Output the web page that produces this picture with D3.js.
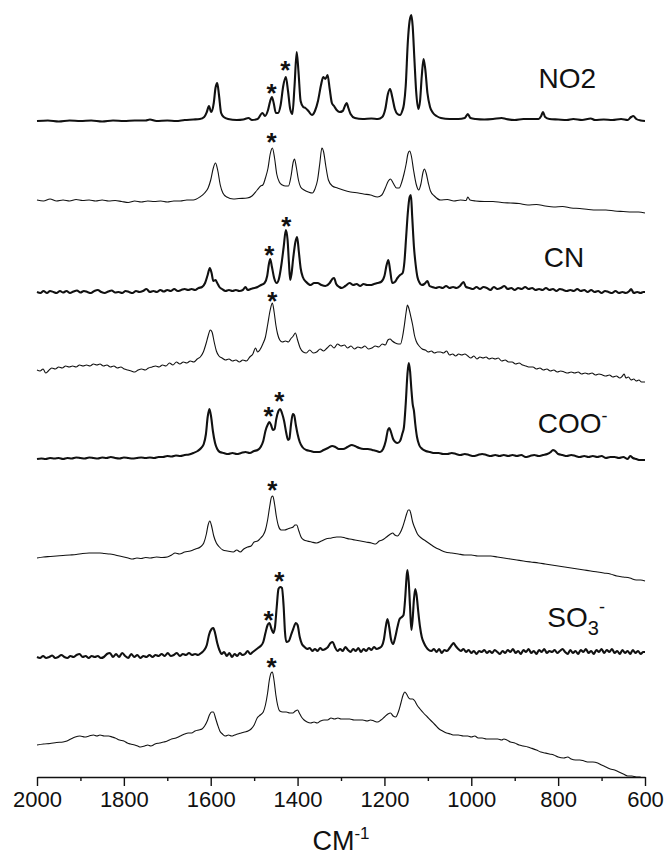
<!DOCTYPE html>
<html>
<head>
<meta charset="utf-8">
<script src="https://cdn.jsdelivr.net/npm/d3@7"></script>
<style>
  body { margin: 0; background: #fff; }
  svg { display: block; font-family: "Liberation Sans", Arial, sans-serif; }
  .spec { fill: none; stroke: #111; stroke-linejoin: round; }
  .axis path, .axis line { stroke: #111; stroke-width: 1.4px; }
  .axis text { font-family: "Liberation Sans", Arial, sans-serif; fill: #111; }
</style>
</head>
<body>
<svg id="chart" width="665" height="855"></svg>
<script>
//Stacked SERS spectra, top to bottom. Each spectrum is [wavenumber, intensity above its own baseline].

var tickLabels = [2000, 1800, 1600, 1400, 1200, 1000, 800, 600];
var minorTicks = [1900, 1700, 1500, 1300, 1100, 900, 700];

var offsets = [656, 577, 485, 407, 318, 219, 120, 32];
var thick = [true, false, true, false, true, false, true, false];

var spec1 = [[2000,0],[1975,0.5],[1950,-0.5],[1925,0.5],[1900,0],[1875,0.5],[1850,-0.5],[1825,0.5],[1800,0],[1775,0.5],[1750,0.5],[1740,1.5],[1725,0],[1700,0.5],[1680,0],[1660,1],[1640,1.5],[1625,2],[1615,4],[1609,9],[1604,15],[1599,9],[1593,18],[1589,33],[1585,38],[1581,26],[1576,8],[1570,4],[1560,2],[1540,1],[1525,1.5],[1513,3],[1505,1],[1492,2],[1481,8],[1475,5],[1468,11],[1463,20],[1459,24],[1455,18],[1450,8],[1445,8],[1439,16],[1433,35],[1427,44],[1422,30],[1417,12],[1412,7],[1407,35],[1402,69],[1398,50],[1393,20],[1387,14],[1382,13],[1375,10],[1367,6],[1360,10],[1353,20],[1346,36],[1341,44],[1336,42],[1331,46],[1326,32],[1321,18],[1316,15],[1310,11],[1303,9],[1296,10],[1291,15],[1287,18],[1283,13],[1278,7],[1268,3],[1250,2],[1230,2.5],[1215,2],[1205,4],[1198,12],[1192,27],[1187,32],[1182,24],[1176,12],[1170,7],[1164,6],[1159,10],[1155,17],[1151,35],[1146,80],[1142,100],[1138,106],[1135,95],[1131,62],[1127,30],[1122,12],[1118,20],[1114,45],[1110,62],[1106,52],[1101,28],[1095,14],[1088,8],[1080,5],[1070,3],[1050,2],[1030,2],[1015,3],[1008,7],[1002,3],[990,2],[970,1.5],[950,2],[930,3],[920,2],[900,1],[880,2],[860,2],[845,2],[839,5],[835,9],[830,4],[820,2],[800,1.5],[780,1],[765,2],[745,1],[725,2.5],[715,1],[695,1.5],[675,1],[655,2],[640,1],[632,4],[627,5],[620,2],[610,0.5],[600,0]];

var spec2 = [[2000,0],[1985,-1],[1970,1],[1955,-1],[1940,0],[1925,-1],[1910,0.5],[1895,-0.5],[1880,0],[1865,-1],[1850,0],[1835,-1],[1820,-0.5],[1805,-1.5],[1790,-2.5],[1775,-1],[1760,-2],[1745,-1],[1730,-1.5],[1715,-1],[1700,-2],[1685,-1],[1670,-1],[1655,0],[1640,0],[1625,3],[1614,7],[1606,12],[1600,20],[1594,32],[1589,37],[1584,30],[1578,15],[1572,7],[1563,3],[1548,1],[1535,1.5],[1516,2],[1505,4],[1493,10],[1485,14],[1480,15],[1474,22],[1468,32],[1463,46],[1458,52],[1453,42],[1448,26],[1442,18],[1435,15],[1428,14],[1421,14],[1415,24],[1410,38],[1407,41],[1403,33],[1398,20],[1393,13],[1385,10],[1375,8],[1366,7],[1360,11],[1354,20],[1349,36],[1344,52],[1340,48],[1335,34],[1329,20],[1320,14],[1308,12],[1295,10],[1278,8],[1260,7],[1248,6],[1232,5],[1216,3],[1206,5],[1198,12],[1191,19],[1186,21],[1180,17],[1172,12],[1166,12],[1160,18],[1155,26],[1150,36],[1146,46],[1142,49],[1138,44],[1133,30],[1127,16],[1121,10],[1116,16],[1111,28],[1108,31],[1104,27],[1099,17],[1094,9],[1085,4],[1071,0],[1055,0.5],[1040,-1],[1025,0],[1012,-0.5],[1008,3],[1003,0],[990,-1],[970,-1.5],[950,-1.5],[930,-2.5],[910,-3],[890,-3.5],[870,-5],[850,-4.5],[830,-6],[810,-7],[790,-6.5],[770,-8],[750,-8.5],[730,-9.5],[710,-10],[690,-10],[670,-11],[650,-11.5],[630,-12],[615,-12],[600,-13]];

var spec3 = [[2000,0],[1992,-1],[1985,1],[1977,-1],[1970,1],[1962,0],[1955,-1],[1947,1],[1940,-0.5],[1932,1],[1924,-1],[1916,0.5],[1908,1.5],[1900,-0.5],[1892,1],[1884,0],[1876,-1],[1868,1],[1860,2],[1852,0],[1844,-1],[1836,0.5],[1828,1.5],[1820,-0.5],[1812,0],[1804,-1],[1796,1],[1788,0],[1780,-1],[1772,1],[1764,0],[1756,1],[1748,3],[1740,0],[1732,1],[1724,0],[1716,2],[1708,0.5],[1700,2],[1692,1],[1684,3],[1676,1],[1668,2],[1660,3],[1652,2],[1644,3],[1636,2],[1628,4],[1620,5],[1613,9],[1607,17],[1602,24],[1598,19],[1594,11],[1589,12],[1585,9],[1580,5],[1574,3],[1566,1],[1558,2],[1550,1],[1542,2],[1534,1],[1526,2],[1520,5],[1515,2],[1508,3],[1500,4],[1492,5],[1484,7],[1476,9],[1470,16],[1466,28],[1463,33],[1459,25],[1454,14],[1448,9],[1443,13],[1437,28],[1432,45],[1427,62],[1423,52],[1420,30],[1417,12],[1414,18],[1410,34],[1405,50],[1401,55],[1397,40],[1393,24],[1388,15],[1380,10],[1370,7],[1362,9],[1354,9],[1345,7],[1336,6],[1326,9],[1320,13],[1316,14],[1311,8],[1304,5],[1298,4],[1290,6],[1280,9],[1272,7],[1264,8],[1256,6],[1248,8],[1240,7],[1232,7],[1224,8],[1216,9],[1208,10],[1200,16],[1195,27],[1191,32],[1187,22],[1182,9],[1176,10],[1170,14],[1164,17],[1158,19],[1154,30],[1150,55],[1146,80],[1142,95],[1139,97],[1136,75],[1132,45],[1128,27],[1124,15],[1120,10],[1114,7],[1108,8],[1101,11],[1096,6],[1090,5],[1082,4],[1074,5],[1066,4],[1058,6],[1050,4],[1042,5],[1034,4],[1026,6],[1018,10],[1012,5],[1004,4],[996,3],[988,5],[980,3],[972,5],[964,4],[956,2],[948,5],[940,3],[932,4],[924,6],[916,3],[908,4],[900,2],[892,4],[884,3],[876,5],[868,3],[860,4],[852,2],[844,3],[836,2],[828,4],[820,2],[812,3],[804,1],[796,3],[788,2],[780,1],[772,2],[764,1],[756,3],[748,1],[740,2],[732,0],[724,2],[716,0],[708,1],[700,-1],[692,1],[684,0],[676,-1],[668,1],[660,-1],[652,0],[644,-1],[636,1],[632,3],[626,-1],[618,0],[610,-1],[604,0],[600,0]];

var spec4 = [[2000,0],[1993,-1],[1986,1],[1980,-3],[1974,-1],[1966,2],[1958,1],[1950,3],[1942,2],[1934,4],[1926,3],[1918,4],[1910,3],[1902,5],[1894,4],[1886,5],[1878,4],[1870,6],[1862,5],[1855,6],[1847,4],[1839,5],[1831,3],[1823,4],[1815,2],[1807,3],[1799,1],[1791,0],[1783,-1],[1775,-2],[1767,0],[1759,1],[1751,0],[1743,2],[1735,3],[1727,4],[1719,3],[1711,5],[1703,4],[1695,7],[1687,5],[1679,8],[1671,6],[1663,8],[1655,7],[1647,9],[1639,8],[1631,11],[1624,13],[1617,18],[1611,26],[1606,34],[1601,40],[1597,38],[1592,28],[1587,19],[1581,14],[1574,12],[1566,10],[1558,11],[1550,9],[1542,10],[1534,8],[1526,10],[1518,9],[1510,13],[1503,16],[1497,22],[1492,18],[1487,20],[1480,26],[1474,33],[1469,45],[1463,60],[1458,67],[1454,58],[1450,45],[1446,36],[1441,30],[1435,28],[1428,29],[1421,28],[1416,31],[1410,34],[1405,37],[1400,30],[1394,22],[1387,18],[1380,17],[1372,20],[1364,17],[1356,18],[1348,21],[1340,19],[1332,22],[1324,25],[1316,22],[1308,26],[1300,24],[1292,25],[1285,22],[1277,24],[1269,21],[1261,23],[1253,22],[1245,24],[1237,21],[1229,22],[1221,24],[1213,23],[1205,26],[1198,25],[1192,30],[1187,31],[1182,29],[1175,27],[1168,26],[1163,26],[1158,34],[1154,45],[1150,58],[1147,65],[1144,62],[1140,55],[1135,45],[1131,35],[1127,29],[1120,24],[1113,21],[1106,20],[1099,18],[1092,19],[1085,17],[1078,18],[1071,18],[1064,17],[1057,19],[1050,15],[1043,16],[1036,14],[1029,16],[1022,15],[1015,16],[1008,14],[1001,12],[994,14],[987,11],[980,13],[973,12],[966,13],[959,11],[952,12],[945,11],[938,12],[930,9],[922,10],[914,8],[906,8],[898,6],[890,7],[882,5],[874,4],[866,3],[858,3],[850,1],[842,2],[834,0],[826,1],[818,-1],[810,0],[802,-2],[794,-1],[786,-2],[778,-3],[770,-2],[762,-3],[754,-2],[746,-4],[738,-3],[730,-4],[722,-3],[714,-5],[706,-4],[698,-5],[690,-6],[682,-5],[674,-7],[666,-6],[658,-8],[652,-6],[648,-4],[644,-8],[638,-7],[632,-10],[626,-9],[620,-11],[614,-10],[608,-12],[600,-12]];

var spec5 = [[2000,0],[1990,0.5],[1980,0],[1970,1],[1960,0.5],[1950,1],[1940,0],[1930,1],[1920,0.5],[1910,1.5],[1900,1],[1890,0.5],[1880,1.5],[1870,1],[1860,0.5],[1850,1.5],[1840,1],[1830,2],[1820,1],[1810,0.5],[1800,1.5],[1790,1],[1780,0.5],[1770,1],[1760,1.5],[1750,1],[1740,1.5],[1730,1],[1720,2],[1710,2],[1700,3],[1690,2.5],[1680,3.5],[1670,3],[1660,4],[1650,4.5],[1640,6],[1630,8],[1622,11],[1616,15],[1611,25],[1607,42],[1603,50],[1599,42],[1595,28],[1590,16],[1585,10],[1579,7],[1570,6],[1560,5],[1550,6],[1540,5],[1530,6],[1520,7],[1510,6],[1500,8],[1492,9],[1485,12],[1479,18],[1474,28],[1468,35],[1465,37],[1461,34],[1457,29],[1453,30],[1449,40],[1444,48],[1440,50],[1436,46],[1431,38],[1426,26],[1422,19],[1419,20],[1415,35],[1411,45],[1408,44],[1404,34],[1400,25],[1395,17],[1389,12],[1380,9],[1370,8],[1360,7],[1350,7],[1340,9],[1330,11],[1320,13],[1313,12],[1305,10],[1295,10],[1285,12],[1275,14],[1268,13],[1258,11],[1248,10],[1238,10],[1228,9],[1218,8],[1210,7],[1203,10],[1197,18],[1192,29],[1189,31],[1185,27],[1180,20],[1175,17],[1170,16],[1164,18],[1159,25],[1155,32],[1151,55],[1147,85],[1144,96],[1141,88],[1138,70],[1135,55],[1132,48],[1129,35],[1125,22],[1120,14],[1113,10],[1105,8],[1095,7],[1085,6],[1075,6],[1065,5],[1055,5],[1045,6],[1035,5],[1025,4],[1015,5],[1005,4],[995,3],[985,4],[975,5],[965,4],[955,3],[945,4],[935,3],[925,4],[915,3],[905,4],[895,3],[885,4],[875,2],[865,3],[855,4],[845,3],[835,4],[825,5],[817,7],[812,9],[807,8],[800,5],[790,4],[780,3],[770,4],[760,3],[750,2],[740,3],[730,2],[720,3],[710,2],[700,3],[690,1],[680,2],[670,2],[660,1],[650,2],[640,0],[634,3],[628,1],[620,0],[612,-1],[600,-1]];

var spec6 = [[2000,0],[1985,1],[1970,1.5],[1955,2],[1940,2.5],[1924,3],[1910,3.5],[1895,4.5],[1880,5],[1865,5],[1855,5],[1845,4.5],[1832,4],[1820,3],[1805,1.5],[1790,0],[1780,-1],[1770,0],[1760,-0.5],[1750,0.5],[1739,0],[1725,1],[1712,0.5],[1700,1],[1690,3],[1682,5],[1672,4],[1660,6],[1647,7],[1635,9],[1624,11],[1616,15],[1610,24],[1606,33],[1602,37],[1598,32],[1593,22],[1587,15],[1580,11],[1572,8],[1562,7],[1548,6],[1540,8],[1532,6],[1524,9],[1515,11],[1507,12],[1500,16],[1492,17],[1485,20],[1479,23],[1474,28],[1469,38],[1464,52],[1460,61],[1457,62],[1453,54],[1449,42],[1444,32],[1438,28],[1430,28],[1423,29],[1417,30],[1410,31],[1406,33],[1402,33],[1397,27],[1392,21],[1385,18],[1378,17],[1368,16],[1356,15],[1345,17],[1335,19],[1322,20],[1310,21],[1300,21],[1290,20],[1280,19],[1268,18],[1255,17],[1243,16],[1230,15],[1220,14],[1212,17],[1205,18],[1195,21],[1186,24],[1181,25],[1176,23],[1170,22],[1164,25],[1158,31],[1153,38],[1149,44],[1145,48],[1142,48],[1139,44],[1135,36],[1130,30],[1124,24],[1115,20],[1105,17],[1095,14],[1085,11],[1071,8],[1060,6],[1045,5],[1030,4],[1015,3],[1000,3],[985,2],[970,2],[955,2],[940,1],[925,0],[910,-1],[895,-2],[880,-3],[863,-4],[845,-5],[830,-6],[815,-7],[800,-8],[785,-9],[770,-10],[755,-11],[740,-12],[725,-13],[709,-14],[695,-15],[680,-16],[665,-18],[650,-19],[635,-20],[620,-22],[610,-22],[600,-23]];

var spec7 = [[2000,0],[1993,-1],[1986,1],[1979,-1],[1972,0],[1965,1.5],[1958,-1],[1951,0],[1944,2],[1937,0],[1930,-1],[1923,1],[1916,0],[1909,2],[1902,3],[1895,0],[1888,1],[1881,-1],[1874,1],[1867,0],[1860,1],[1853,-1],[1846,0],[1839,3],[1832,4],[1825,0],[1818,3],[1811,0],[1804,4],[1797,1],[1790,-1],[1783,3],[1776,0],[1769,2],[1762,-1],[1755,1],[1748,0],[1741,2],[1734,0],[1727,2],[1720,1],[1713,3],[1706,1],[1699,4],[1692,1],[1685,2],[1678,4],[1671,1],[1664,3],[1657,2],[1650,4],[1643,2],[1636,3],[1629,2],[1622,4],[1615,7],[1609,12],[1604,22],[1598,28],[1594,29],[1590,24],[1585,14],[1580,7],[1575,3],[1569,5],[1563,1],[1557,4],[1551,0],[1545,3],[1539,1],[1533,4],[1527,2],[1521,3],[1515,6],[1509,3],[1503,5],[1497,7],[1491,9],[1485,11],[1479,15],[1474,24],[1469,32],[1465,34],[1460,28],[1456,24],[1452,30],[1448,50],[1444,68],[1440,70],[1436,69],[1432,50],[1429,25],[1426,15],[1420,16],[1415,22],[1410,28],[1404,34],[1400,32],[1395,20],[1390,13],[1384,10],[1378,8],[1372,9],[1366,6],[1360,8],[1354,6],[1348,9],[1342,7],[1336,8],[1330,10],[1324,14],[1319,15],[1314,10],[1308,6],[1302,8],[1296,6],[1290,10],[1284,7],[1278,5],[1272,8],[1266,6],[1260,9],[1254,5],[1248,8],[1242,6],[1236,9],[1230,7],[1224,10],[1218,8],[1212,9],[1206,11],[1201,18],[1197,30],[1193,38],[1189,30],[1185,18],[1180,13],[1175,20],[1170,30],[1165,38],[1160,40],[1156,42],[1152,60],[1149,80],[1147,87],[1144,75],[1141,50],[1138,27],[1135,38],[1132,58],[1129,68],[1126,62],[1122,45],[1118,30],[1114,20],[1109,14],[1104,10],[1098,7],[1092,6],[1086,8],[1080,5],[1074,8],[1068,4],[1062,7],[1056,6],[1050,9],[1045,12],[1041,14],[1036,11],[1030,8],[1024,6],[1018,8],[1012,5],[1006,7],[1000,4],[994,6],[988,3],[982,6],[976,5],[970,7],[964,4],[958,6],[952,4],[946,7],[940,5],[934,3],[928,6],[922,4],[916,7],[910,5],[904,8],[898,4],[892,6],[886,3],[880,7],[874,5],[868,8],[862,4],[856,6],[850,3],[844,7],[838,5],[832,8],[826,4],[820,6],[814,5],[808,7],[802,4],[796,6],[790,8],[784,5],[778,3],[772,7],[766,4],[760,6],[754,3],[748,7],[742,5],[736,8],[730,4],[724,6],[718,3],[712,7],[706,5],[700,8],[694,4],[688,7],[682,5],[676,8],[670,4],[664,6],[658,3],[652,7],[646,4],[640,6],[634,3],[628,7],[622,4],[616,6],[610,3],[604,5],[600,5]];

var spec8 = [[2000,0],[1985,1],[1970,1.5],[1955,2.5],[1940,3],[1931,4],[1922,6],[1912,8],[1901,9],[1890,8],[1880,9],[1870,10],[1862,9],[1855,10],[1845,9],[1835,9],[1827,8],[1820,7],[1810,5],[1800,4],[1792,2],[1785,1],[1775,0],[1768,-1],[1762,-2],[1752,-1],[1745,0],[1738,-1],[1728,1],[1718,2],[1708,3],[1700,4],[1690,6],[1680,7],[1670,9],[1660,11],[1652,12],[1644,12],[1636,14],[1628,15],[1620,16],[1614,19],[1608,24],[1603,30],[1598,33],[1594,33],[1589,27],[1584,20],[1579,14],[1573,11],[1566,9],[1559,10],[1552,9],[1545,10],[1538,11],[1530,12],[1522,13],[1514,14],[1507,16],[1500,20],[1493,27],[1486,30],[1479,33],[1474,40],[1469,52],[1465,65],[1461,72],[1458,73],[1454,64],[1450,50],[1446,40],[1441,34],[1434,33],[1426,33],[1418,32],[1411,32],[1405,34],[1400,35],[1396,32],[1391,28],[1385,25],[1378,23],[1370,22],[1362,23],[1355,22],[1347,24],[1339,25],[1331,25],[1323,27],[1315,26],[1307,27],[1300,26],[1290,26],[1280,26],[1270,25],[1260,25],[1250,25],[1240,24],[1232,25],[1224,24],[1216,23],[1208,25],[1200,28],[1192,31],[1186,32],[1180,29],[1174,28],[1168,33],[1162,42],[1157,50],[1153,53],[1149,51],[1144,47],[1140,46],[1135,46],[1130,44],[1125,40],[1118,36],[1110,32],[1101,28],[1092,24],[1083,20],[1074,16],[1066,14],[1057,12],[1048,11],[1040,10],[1030,10],[1018,9],[1008,9],[1000,8],[992,9],[984,7],[975,7],[965,6],[955,6],[945,6],[939,6],[930,5],[925,6],[918,5],[910,3],[900,2],[890,0],[880,-1],[870,-2],[863,-3],[850,-5],[840,-7],[830,-8],[820,-9],[810,-10],[800,-12],[787,-13],[778,-12],[770,-14],[760,-15],[750,-15],[740,-16],[730,-17],[720,-17],[709,-18],[700,-20],[690,-22],[680,-24],[670,-25],[660,-27],[650,-29],[640,-31],[630,-31],[620,-32],[610,-32]];

var spectra = [spec1, spec2, spec3, spec4, spec5, spec6, spec7, spec8];

//asterisks: [spectrum index, wavenumber, height above baseline]
var stars = [[0,1460,34],[0,1428,57],[1,1460,64],[2,1465,43],[2,1426,72],[3,1458,75],[4,1467,49],[4,1442,64],[5,1458,74],[6,1467,43],[6,1442,82],[7,1460,84]];

//group labels: spectrum index, wavenumber of left edge, height of baseline above spectrum baseline
var labelNames = ["NO2", "CN", "COO", "SO"];
var labelSpec = [0, 2, 4, 6];
var labelWn = [845, 833, 847, 825];
var labelV = [33, 25, 26, 30];

var svg = d3.select("#chart");

var x = d3.scaleLinear().domain([2000, 600]).range([37, 645]);
var y = d3.scaleLinear().domain([0, 777]).range([777, 0]);

var line = d3.line()
  .curve(d3.curveMonotoneX)
  .x(d => x(d[0]));

spectra.forEach(function(s, i){
  svg.append("path")
    .datum(s)
    .classed("spec", true)
    .attr("stroke-width", thick[i] ? 2.1 : 1.1)
    .attr("d", line.y(d => y(offsets[i] + d[1])));
});

svg.selectAll("text.star").data(stars).enter().append("text")
  .classed("star", true)
  .attr("x", d => x(d[1]))
  .attr("y", d => y(offsets[d[0]] + d[2]) + 15)
  .attr("text-anchor", "middle")
  .attr("font-size", 26)
  .attr("font-weight", "bold")
  .attr("fill", "#111")
  .text("*");

//labels, with sub/superscripts where needed
labelNames.forEach(function(name, i){
  let t = svg.append("text")
    .attr("x", x(labelWn[i]))
    .attr("y", y(offsets[labelSpec[i]] + labelV[i]))
    .attr("font-size", 28)
    .attr("fill", "#111")
    .text(name);
  if(name === "COO"){
    t.append("tspan").attr("dy", -11).attr("font-size", 18).text("-");
  }
  if(name === "SO"){
    t.append("tspan").attr("dy", 8).attr("font-size", 20).text("3");
    t.append("tspan").attr("dy", -22).attr("font-size", 18).text("-");
  }
});

//x axis
let axis = svg.append("g")
  .classed("axis", true)
  .attr("transform", "translate(0,777)")
  .call(d3.axisBottom(x).tickValues(tickLabels).tickFormat(d3.format("d")).tickSize(9).tickSizeOuter(0));

axis.selectAll("text")
  .attr("y", 30)
  .attr("dy", 0)
  .attr("font-size", 22);

svg.append("g")
  .classed("axis", true)
  .attr("transform", "translate(0,777)")
  .call(d3.axisBottom(x).tickValues(minorTicks).tickSize(4).tickSizeOuter(0).tickFormat(""))
  .select(".domain").remove();

let xlab = svg.append("text")
  .attr("x", 341)
  .attr("y", 850)
  .attr("text-anchor", "middle")
  .attr("font-size", 27)
  .attr("fill", "#111")
  .text("CM");
xlab.append("tspan").attr("dy", -11).attr("font-size", 17).text("-1");

</script>
</body>
</html>
